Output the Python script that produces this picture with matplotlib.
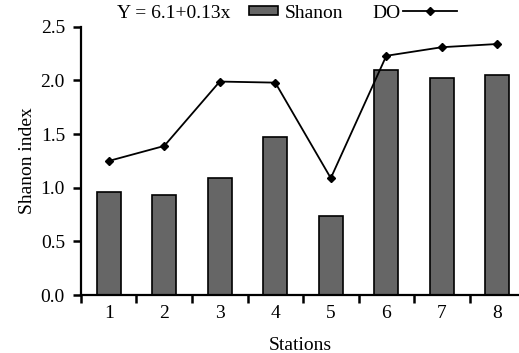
import matplotlib
matplotlib.use("Agg")
import matplotlib.pyplot as plt
from matplotlib.patches import Patch
from matplotlib.lines import Line2D

stations = [1, 2, 3, 4, 5, 6, 7, 8]
shanon = [0.96, 0.93, 1.09, 1.47, 0.74, 2.10, 2.02, 2.05]
do_vals = [1.25, 1.39, 1.99, 1.98, 1.09, 2.23, 2.31, 2.34]
yticks = [0.0, 0.5, 1.0, 1.5, 2.0, 2.5]

plt.rcParams['font.family'] = ['Liberation Serif', 'DejaVu Serif']
plt.rcParams['font.size'] = 14

fig = plt.figure(figsize=(5.19, 3.53), dpi=100)
ax = fig.add_axes([0.156, 0.164, 0.844, 0.76])

ax.bar(stations, shanon, width=0.43, color='#666666', edgecolor='black', linewidth=1.2)
ax.plot(stations, do_vals, color='black', linewidth=1.3, marker='D', markersize=4)

ax.set_xlim(0.5, 8.39)
ax.set_ylim(0, 2.5)
ax.set_yticks(yticks)
ax.set_yticklabels(["%.1f" % v for v in yticks])

# ticks sit between the stations, labels under the bars
ax.set_xticks([s - 0.5 for s in stations])
ax.set_xticklabels([])
ax.set_xticks(stations, minor=True)
ax.set_xticklabels([str(s) for s in stations], minor=True)
ax.tick_params(axis='x', which='major', direction='out', length=6, width=1.8)
ax.tick_params(axis='x', which='minor', length=0, pad=7)
ax.tick_params(axis='y', direction='out', length=6, width=1.8, pad=5.5)

for s in ['top', 'right']:
    ax.spines[s].set_visible(False)
for s in ['left', 'bottom']:
    ax.spines[s].set_linewidth(1.6)

ax.set_xlabel("Stations", labelpad=11)
ax.set_ylabel("Shanon index", labelpad=3)

# legend row above the plot
fig.text(0.225, 0.963, "Y = 6.1+0.13x", ha='left', va='center')
leg1 = ax.legend([Patch(facecolor='#666666', edgecolor='black', linewidth=1.2)], ["Shanon"],
                 loc='center left', bbox_to_anchor=(0.461, 0.963), bbox_transform=fig.transFigure,
                 frameon=False, borderpad=0, handlelength=1.5, handleheight=0.35, handletextpad=0.35)
ax.add_artist(leg1)
ax.legend([Line2D([], [], color='black', linewidth=1.3, marker='D', markersize=4)], ["DO"],
          loc='center left', bbox_to_anchor=(0.699, 0.963), bbox_transform=fig.transFigure,
          frameon=False, borderpad=0, handlelength=2.8, handletextpad=0.1, markerfirst=False)

fig.savefig("out.png", dpi=100)
